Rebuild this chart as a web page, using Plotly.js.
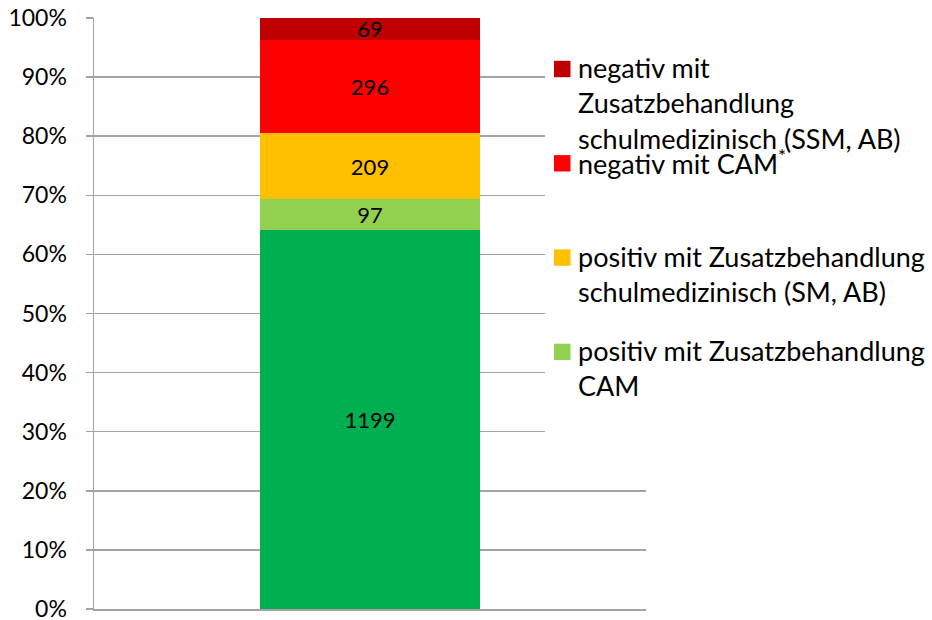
<!DOCTYPE html>
<html>
<head>
<meta charset="utf-8">
<script src="https://cdn.plot.ly/plotly-3.0.1.min.js"></script>
<style>
  html, body { margin: 0; padding: 0; background: #fff; }
  #chart { width: 932px; height: 620px; }
</style>
</head>
<body>
<div id="chart"></div>
<script>
// ---- data ----
const categories = ['Gesamt'];
const seriesNames = [
  'positiv ohne Zusatzbehandlung',
  'positiv mit Zusatzbehandlung<br>CAM',
  'positiv mit Zusatzbehandlung<br>schulmedizinisch (SM, AB)',
  'negativ mit CAM<sup>*</sup>',
  'negativ mit<br>Zusatzbehandlung<br>schulmedizinisch (SSM, AB)'
];
const seriesValues = [[1199], [97], [209], [296], [69]];
const seriesColors = ['#00B050', '#92D050', '#FFC000', '#FF0000', '#C00000'];
const inLegend = [false, true, true, true, true];
const yTickValues = [0, 10, 20, 30, 40, 50, 60, 70, 80, 90, 100];

// ---- layout geometry (pixels) ----
const W = 932, H = 620;
const M = { l: 94, r: 286, t: 18, b: 11 };
const plotW = W - M.l - M.r, plotH = H - M.t - M.b;
const px2x = px => (px - M.l) / plotW;
const py2y = py => (H - M.b - py) / plotH;

const FONT = 'Lato, "Open Sans", sans-serif';
const GRID = '#a3a3a3';

const traces = seriesValues.map((vals, i) => ({
  type: 'bar',
  x: categories,
  y: vals,
  name: seriesNames[i],
  marker: { color: seriesColors[i], line: { width: 0 } },
  text: vals.map(String),
  textposition: 'inside',
  insidetextanchor: 'middle',
  textangle: 0,
  constraintext: 'none',
  cliponaxis: false,
  textfont: { family: FONT, size: 22, color: '#000' },
  hoverinfo: 'skip',
  showlegend: false
}));

// manual legend (Excel-style, fixed spacing with overlapping text)
const shapes = [{
  type: 'rect', xref: 'paper', yref: 'paper', layer: 'above',
  x0: px2x(545), x1: px2x(652), y0: py2y(440), y1: py2y(70),
  fillcolor: '#fff', line: { width: 0 }
}];
const annotations = [];
const legendOrder = [];
for (let i = seriesNames.length - 1; i >= 0; i--) if (inLegend[i]) legendOrder.push(i);
const itemTop = 69, itemStep = 94.3, lineStep = 35;
legendOrder.forEach((si, k) => {
  const cy = itemTop + k * itemStep;
  shapes.push({
    type: 'rect', xref: 'paper', yref: 'paper', layer: 'above',
    x0: px2x(554), x1: px2x(570.5), y0: py2y(cy + 8.2), y1: py2y(cy - 8.2),
    fillcolor: seriesColors[si], line: { width: 0 }
  });
  seriesNames[si].split('<br>').forEach((line, j) => {
    annotations.push({
      xref: 'paper', yref: 'paper',
      x: px2x(576), y: py2y(cy - 1 + j * lineStep),
      xanchor: 'left', yanchor: 'middle',
      text: line, showarrow: false,
      font: { family: FONT, size: 27, color: '#000' }
    });
  });
});

const layout = {
  width: W, height: H,
  margin: M,
  paper_bgcolor: '#fff', plot_bgcolor: '#fff',
  barmode: 'stack', barnorm: 'percent', bargap: 0.6,
  showlegend: false,
  font: { family: FONT, color: '#000' },
  xaxis: {
    type: 'category', range: [-0.5, 0.5],
    showticklabels: false, ticks: '',
    showgrid: false, zeroline: false,
    showline: true, linecolor: GRID, linewidth: 1.5
  },
  yaxis: {
    range: [0, 100],
    tickvals: yTickValues,
    ticktext: yTickValues.map(v => v + '%'),
    ticks: 'outside', ticklen: 7, tickwidth: 1.5, tickcolor: GRID,
    ticklabelstandoff: 14,
    ticklabeloverflow: 'allow',
    tickfont: { family: FONT, size: 23, color: '#000' },
    showgrid: true, gridcolor: GRID, gridwidth: 1.5,
    zeroline: false,
    showline: true, linecolor: GRID, linewidth: 1.5
  },
  shapes: shapes,
  annotations: annotations
};

Plotly.newPlot('chart', traces, layout, { displayModeBar: false, staticPlot: true });
</script>
</body>
</html>
